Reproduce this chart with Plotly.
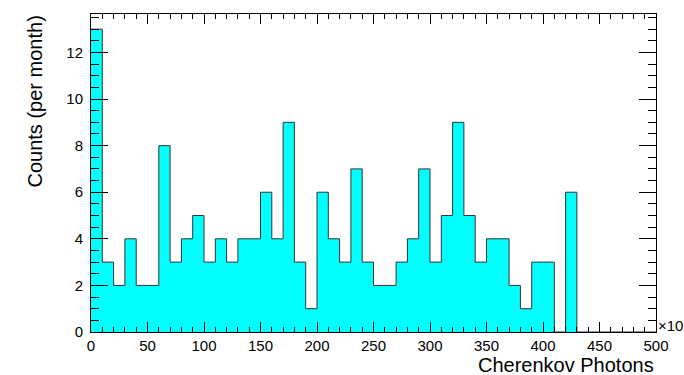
import plotly.graph_objects as go

bin_edges = list(range(0, 510, 10))
counts = [13, 3, 2, 4, 2, 2, 8, 3, 4, 5,
          3, 4, 3, 4, 4, 6, 4, 9, 3, 1,
          6, 4, 3, 7, 3, 2, 2, 3, 4, 7,
          3, 5, 9, 5, 3, 4, 4, 2, 1, 3,
          3, 0, 6, 0, 0, 0, 0, 0, 0, 0]
x_ticks = [0, 50, 100, 150, 200, 250, 300, 350, 400, 450, 500]
y_ticks = [0, 2, 4, 6, 8, 10, 12]

x_title = "Cherenkov Photons"
y_title = "Counts (per month)"
exp_label = "\u00d710"

FONT = "Liberation Sans, Arial, Helvetica, sans-serif"

fig = go.Figure()
fig.add_trace(go.Scatter(
    x=bin_edges,
    y=counts + [counts[-1]],
    mode="lines",
    line=dict(shape="hv", color="#333333", width=1),
    fill="tozeroy",
    fillcolor="#00FFFF",
    hoverinfo="skip",
    showlegend=False,
))

fig.update_layout(
    width=684, height=375,
    margin=dict(l=91, r=28, t=14, b=43),
    paper_bgcolor="white", plot_bgcolor="white",
    font=dict(family=FONT, size=15, color="black"),
    xaxis=dict(
        range=[0, 500], tickvals=x_ticks, ticks="inside", ticklen=10,
        tickcolor="black", tickwidth=1,
        minor=dict(dtick=10, tick0=0, ticks="inside", ticklen=5, tickcolor="black"),
        showline=True, linecolor="black", linewidth=1, mirror="ticks",
        showgrid=False, zeroline=False, tickfont=dict(size=15),
    ),
    yaxis=dict(
        range=[0, 13.65], tickvals=y_ticks, ticks="inside", ticklen=17,
        tickcolor="black", tickwidth=1, ticklabelstandoff=4,
        minor=dict(dtick=0.5, tick0=0, ticks="inside", ticklen=8, tickcolor="black"),
        showline=True, linecolor="black", linewidth=1, mirror="ticks",
        showgrid=False, zeroline=False, tickfont=dict(size=15),
    ),
    annotations=[
        dict(text=x_title, xref="paper", yref="paper", x=1.0, y=-0.104,
             xanchor="right", yanchor="middle", showarrow=False,
             font=dict(size=20)),
        dict(text=y_title, xref="paper", yref="paper", x=-0.1, y=1.0,
             xanchor="center", yanchor="top", showarrow=False, textangle=-90,
             font=dict(size=20)),
        dict(text=exp_label, xref="paper", yref="paper", x=1.0, y=0.02,
             xanchor="left", yanchor="middle", showarrow=False,
             font=dict(size=15)),
    ],
)

fig.write_html("out.html")
